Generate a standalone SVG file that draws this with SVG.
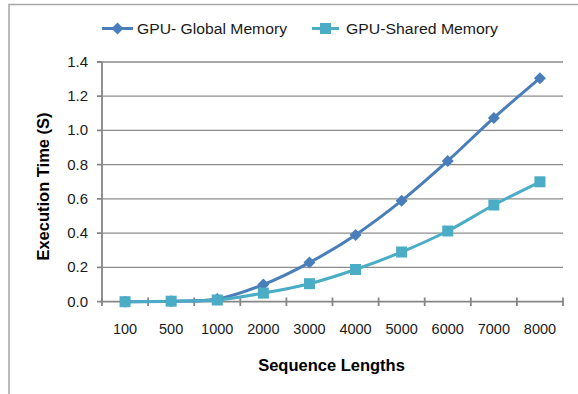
<svg xmlns="http://www.w3.org/2000/svg" width="578" height="394" viewBox="0 0 578 394">
<defs>
<style>
.frame{fill:none;stroke:#a6a6a6;stroke-width:1.5}
.grid{stroke:#8c8c8c;stroke-width:1.3}
.axis{stroke:#868686;stroke-width:1.8;fill:none}
.tick{font-family:"Liberation Sans",Arial,sans-serif;font-size:15px;fill:#1a1a1a}
.xt{font-size:14.5px}
.title{font-family:"Liberation Sans",Arial,sans-serif;font-size:16.5px;font-weight:bold;fill:#000}
.leg{font-family:"Liberation Sans",Arial,sans-serif;font-size:15.5px;fill:#1a1a1a}
.s1{fill:none;stroke:#4a7ebb;stroke-width:3}
.s2{fill:none;stroke:#4bacc6;stroke-width:3}
</style>
<path id="dia" d="M0,-6 L6,0 L0,6 L-6,0 Z" fill="#4a7ebb"/>
<rect id="sq" x="-5.5" y="-5.5" width="11" height="11" fill="#4bacc6"/>
</defs>
<rect width="578" height="394" fill="#fff"/>
<path class="frame" d="M9,394 V4.5 H578"/>
<g id="gridlines">
<line class="grid" x1="102" y1="62" x2="563" y2="62"/>
<line class="grid" x1="102" y1="96.2" x2="563" y2="96.2"/>
<line class="grid" x1="102" y1="130.4" x2="563" y2="130.4"/>
<line class="grid" x1="102" y1="164.7" x2="563" y2="164.7"/>
<line class="grid" x1="102" y1="198.9" x2="563" y2="198.9"/>
<line class="grid" x1="102" y1="233.2" x2="563" y2="233.2"/>
<line class="grid" x1="102" y1="267.4" x2="563" y2="267.4"/>
</g>
<g id="axes">
<path class="axis" d="M102,62 V301.7 H563"/>
<path class="axis" d="M97,62 H102 M97,96.2 H102 M97,130.4 H102 M97,164.7 H102 M97,198.9 H102 M97,233.2 H102 M97,267.4 H102 M97,301.7 H102"/>
<path class="axis" d="M102,297.5 V306 M148.1,297.5 V306 M194.2,297.5 V306 M240.3,297.5 V306 M286.4,297.5 V306 M332.5,297.5 V306 M378.6,297.5 V306 M424.7,297.5 V306 M470.8,297.5 V306 M516.9,297.5 V306 M563,297.5 V306"/>
</g>
<g id="y-labels" class="tick" text-anchor="end">
<text x="88" y="67">1.4</text>
<text x="88" y="101.2">1.2</text>
<text x="88" y="135.4">1.0</text>
<text x="88" y="169.7">0.8</text>
<text x="88" y="203.9">0.6</text>
<text x="88" y="238.2">0.4</text>
<text x="88" y="272.4">0.2</text>
<text x="88" y="306.7">0.0</text>
</g>
<g id="x-labels" class="tick xt" text-anchor="middle">
<text x="125.05" y="334">100</text>
<text x="171.15" y="334">500</text>
<text x="217.25" y="334">1000</text>
<text x="263.35" y="334">2000</text>
<text x="309.45" y="334">3000</text>
<text x="355.55" y="334">4000</text>
<text x="401.65" y="334">5000</text>
<text x="447.75" y="334">6000</text>
<text x="493.85" y="334">7000</text>
<text x="539.95" y="334">8000</text>
</g>
<text id="x-title" class="title" x="331.5" y="371" text-anchor="middle">Sequence Lengths</text>
<text id="y-title" class="title" transform="translate(48.5,186.5) rotate(-90)" text-anchor="middle">Execution Time (S)</text>
<g id="connectors">
<path id="series-global" class="s1" d="M125.05,301.7 C132.73,301.62 155.78,301.63 171.15,301.2 C186.52,300.77 201.88,301.87 217.25,299.1 C232.62,296.33 247.98,290.68 263.35,284.6 C278.72,278.52 294.08,270.88 309.45,262.6 C324.82,254.32 340.18,245.22 355.55,234.9 C370.92,224.58 386.28,213.03 401.65,200.7 C417.02,188.37 432.38,174.7 447.75,160.9 C463.12,147.1 478.48,131.68 493.85,117.9 C509.22,104.12 532.27,84.82 539.95,78.2"/>
<path id="series-shared" class="s2" d="M125.05,301.7 C132.73,301.62 155.78,301.48 171.15,301.2 C186.52,300.92 201.88,301.35 217.25,300.0 C232.62,298.65 247.98,295.82 263.35,293.1 C278.72,290.38 294.08,287.63 309.45,283.7 C324.82,279.77 340.18,274.78 355.55,269.5 C370.92,264.22 386.28,258.42 401.65,252.0 C417.02,245.58 432.38,238.83 447.75,231.0 C463.12,223.17 478.48,213.2 493.85,205.0 C509.22,196.8 532.27,185.67 539.95,181.8"/>
</g>
<g id="markers-global">
<use href="#dia" x="125.05" y="301.7"/>
<use href="#dia" x="171.15" y="301.2"/>
<use href="#dia" x="217.25" y="299.1"/>
<use href="#dia" x="263.35" y="284.6"/>
<use href="#dia" x="309.45" y="262.6"/>
<use href="#dia" x="355.55" y="234.9"/>
<use href="#dia" x="401.65" y="200.7"/>
<use href="#dia" x="447.75" y="160.9"/>
<use href="#dia" x="493.85" y="117.9"/>
<use href="#dia" x="539.95" y="78.2"/>
</g>
<g id="markers-shared">
<use href="#sq" x="125.05" y="301.7"/>
<use href="#sq" x="171.15" y="301.2"/>
<use href="#sq" x="217.25" y="300.0"/>
<use href="#sq" x="263.35" y="293.1"/>
<use href="#sq" x="309.45" y="283.7"/>
<use href="#sq" x="355.55" y="269.5"/>
<use href="#sq" x="401.65" y="252.0"/>
<use href="#sq" x="447.75" y="231.0"/>
<use href="#sq" x="493.85" y="205.0"/>
<use href="#sq" x="539.95" y="181.8"/>
</g>
<g id="legend">
<g id="legend-global">
<line class="s1" x1="102" y1="28.5" x2="133" y2="28.5"/>
<use href="#dia" x="117.5" y="28.5"/>
<text class="leg" x="137" y="33.5" textLength="150" lengthAdjust="spacingAndGlyphs">GPU- Global Memory</text>
</g>
<g id="legend-shared">
<line class="s2" x1="312" y1="28.5" x2="339" y2="28.5"/>
<use href="#sq" x="325.5" y="28.5"/>
<text class="leg" x="346" y="33.5" textLength="152" lengthAdjust="spacingAndGlyphs">GPU-Shared Memory</text>
</g>
</g>
</svg>
